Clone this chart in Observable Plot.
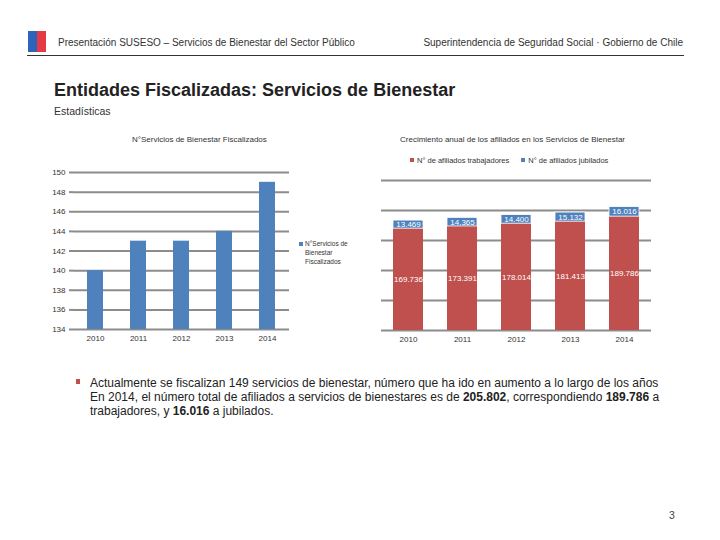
<!DOCTYPE html>
<html>
<head>
<meta charset="utf-8">
<script src="https://cdn.jsdelivr.net/npm/d3@7"></script>
<script src="https://cdn.jsdelivr.net/npm/@observablehq/plot@0.6"></script>
<style>
  html, body { margin: 0; padding: 0; background: #fff; }
  #page { position: relative; width: 720px; height: 540px; overflow: hidden; font-family: "Liberation Sans", Arial, sans-serif; color: #222; }
  .abs { position: absolute; white-space: nowrap; }
  svg { overflow: visible; }
</style>
</head>
<body>
<div id="page">
  <div class="abs" style="left:28px;top:31px;width:9px;height:21px;background:#2d63b8"></div>
  <div class="abs" style="left:37px;top:31px;width:9px;height:21px;background:#e63946"></div>
  <div class="abs" style="left:58px;top:37px;font-size:10px;color:#333">Presentación SUSESO – Servicios de Bienestar del Sector Público</div>
  <div class="abs" style="right:37px;top:37px;font-size:10px;color:#333">Superintendencia de Seguridad Social · Gobierno de Chile</div>
  <div class="abs" style="left:27px;top:55px;width:657px;height:0;border-top:1.5px solid #333"></div>
  <div class="abs" style="left:54px;top:80px;font-size:18px;font-weight:bold;color:#222">Entidades Fiscalizadas: Servicios de Bienestar</div>
  <div class="abs" style="left:54px;top:105px;font-size:10.5px;color:#333">Estadísticas</div>

  <div id="leftTitle" class="abs" style="left:132px;top:135px;font-size:8px;color:#333"></div>
  <div id="left" class="abs" style="left:40px;top:160px"></div>
  <div class="abs" style="left:299px;top:242px;width:4px;height:4px;background:#4f81bd"></div>
  <div id="leftLegend" class="abs" style="left:305px;top:239px;font-size:6.5px;line-height:9px;color:#333;white-space:normal;width:60px"></div>

  <div id="rightTitle" class="abs" style="left:400px;top:135px;font-size:8px;color:#333"></div>
  <div id="rightLegend" class="abs" style="left:410px;top:156px;font-size:7.5px;color:#333"></div>
  <div id="right" class="abs" style="left:370px;top:170px"></div>

  <div class="abs" style="left:76px;top:379px;width:4px;height:5px;background:#c0504d"></div>
  <div class="abs" style="left:90px;top:376px;font-size:12px;line-height:14px;color:#222">
    Actualmente se fiscalizan 149 servicios de bienestar, número que ha ido en aumento a lo largo de los años<br>
    En 2014, el número total de afiliados a servicios de bienestares es de <b>205.802</b>, correspondiendo <b>189.786</b> a<br>
    trabajadores, y <b>16.016</b> a jubilados.
  </div>
  <div class="abs" style="left:669px;top:509px;font-size:10.5px;color:#444">3</div>
</div>
<script>
// ---- Data ----
const years = ["2010", "2011", "2012", "2013", "2014"];
const servicios = [140, 143, 143, 144, 149];
const servTicks = [134, 136, 138, 140, 142, 144, 146, 148, 150];
const servTitle = "N°Servicios de Bienestar Fiscalizados";
const servLegend = "N°Servicios de Bienestar Fiscalizados";

const trabajadores = [169736, 173391, 178014, 181413, 189786];
const jubilados = [13469, 14365, 14400, 15132, 16016];
const afilTicks = [0, 50000, 100000, 150000, 200000, 250000];
const afilTitle = "Crecimiento anual de los afiliados en los Servicios de Bienestar";
const seriesNames = ["N° de afiliados trabajadores", "N° de afiliados jubilados"];
const colors = {blue: "#4f81bd", red: "#c0504d", grid: "#8c8c8c"};

const fmt = v => d3.format(",")(v).replace(/,/g, ".");

document.getElementById("leftTitle").textContent = servTitle;
document.getElementById("leftLegend").textContent = servLegend;
document.getElementById("rightTitle").textContent = afilTitle;
document.getElementById("rightLegend").innerHTML =
  `<span style="display:inline-block;width:4px;height:4px;background:${colors.red};margin-right:3px;vertical-align:1px"></span>${seriesNames[0]}` +
  `<span style="display:inline-block;width:4px;height:4px;background:${colors.blue};margin:0 3px 0 12px;vertical-align:1px"></span>${seriesNames[1]}`;

// ---- Left chart ----
const servData = years.map((y, i) => ({year: y, value: servicios[i]}));
const left = Plot.plot({
  width: 260, height: 190,
  marginLeft: 33, marginRight: 11, marginTop: 12, marginBottom: 21,
  style: {fontFamily: "Liberation Sans, Arial, sans-serif", fontSize: "8px", color: "#333", background: "transparent"},
  x: {domain: years, paddingInner: 0.63, paddingOuter: 0.315, label: null},
  y: {domain: [servTicks[0], servTicks[servTicks.length - 1]], ticks: servTicks, label: null},
  marks: [
    Plot.ruleY(servTicks, {stroke: colors.grid, strokeWidth: 2}),
    Plot.axisY({ticks: servTicks, tickSize: 4, tickPadding: 4, stroke: colors.grid, strokeWidth: 2, strokeOpacity: 1, label: null}),
    Plot.barY(servData, {x: "year", y1: servTicks[0], y2: "value", fill: colors.blue}),
    Plot.axisX({tickSize: 0, tickPadding: 6, label: null})
  ]
});
document.getElementById("left").appendChild(left);

// ---- Right chart ----
const afilData = years.map((y, i) => ({year: y, trab: trabajadores[i], jub: jubilados[i], total: trabajadores[i] + jubilados[i]}));
const right = Plot.plot({
  width: 290, height: 180,
  marginLeft: 11, marginRight: 9, marginTop: 10, marginBottom: 20,
  style: {fontFamily: "Liberation Sans, Arial, sans-serif", fontSize: "8px", color: "#333", background: "transparent"},
  x: {domain: years, paddingInner: 0.444, paddingOuter: 0.222, label: null},
  y: {domain: [afilTicks[0], afilTicks[afilTicks.length - 1]], label: null, axis: null},
  marks: [
    Plot.ruleY(afilTicks, {stroke: colors.grid, strokeWidth: 2}),
    Plot.barY(afilData, {x: "year", y1: 0, y2: "trab", fill: colors.red}),
    Plot.barY(afilData, {x: "year", y1: "trab", y2: "total", fill: colors.blue, stroke: "#fff", strokeWidth: 0.8}),
    Plot.text(afilData, {x: "year", y: d => d.trab / 2, text: d => fmt(d.trab), fill: "#fff", fontSize: 8}),
    Plot.text(afilData, {x: "year", y: d => d.trab + d.jub / 2, text: d => fmt(d.jub), fill: "#fff", fontSize: 8}),
    Plot.axisX({tickSize: 0, tickPadding: 6, label: null})
  ]
});
document.getElementById("right").appendChild(right);
</script>
</body>
</html>
